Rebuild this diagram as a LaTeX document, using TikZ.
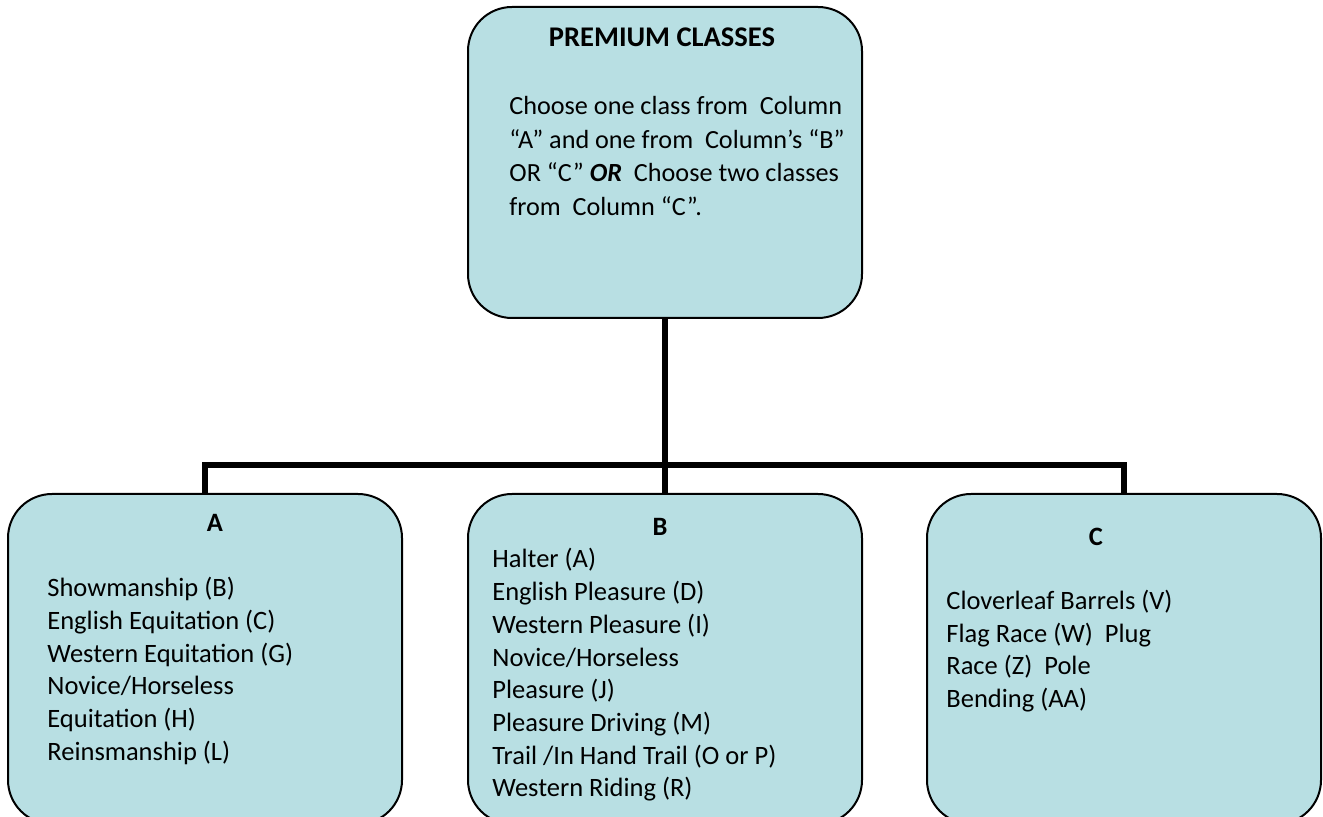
\documentclass[tikz,border=0pt]{standalone}
\usepackage{fontspec}
\setmainfont{Carlito}
\definecolor{boxfill}{RGB}{184,223,227}
\tikzset{
  x=0.5pt,y=-0.5pt,
  classbox/.style={draw=black,line width=1pt,fill=boxfill,rounded corners=22pt,inner sep=0pt},
  conn/.style={draw=black,line width=3pt},
  bodytext/.style={inner sep=0pt,align=left,font=\fontsize{13.25}{16.35}\selectfont},
  toptext/.style={inner sep=0pt,align=left,font=\fontsize{13.1}{16.75}\selectfont},
  headtext/.style={inner sep=0pt,font=\fontsize{13.25}{16.35}\selectfont\bfseries}
}
\begin{document}
\begin{tikzpicture}
\useasboundingbox[clip] (0,0) rectangle (1323,817);
\fill[white] (0,0) rectangle (1323,817);
% boxes
\node[classbox,minimum width=197pt,minimum height=155.5pt] (top) at (665,162.5) {};
\node[classbox,minimum width=197pt,minimum height=165pt] (A) at (205,659) {};
\node[classbox,minimum width=197pt,minimum height=165pt] (B) at (665,659) {};
\node[classbox,minimum width=197pt,minimum height=165pt] (C) at (1124,659) {};
% connectors
\draw[conn] (top.south) -- (B.north);
\draw[conn] (A.north) -- ++(0,-28) -| (C.north);
% top text
\node[headtext,font=\fontsize{14.25}{17}\selectfont\bfseries] (toph) at (662,37) {PREMIUM CLASSES};
\node[toptext,anchor=west] (topb) at (509,156) {Choose one class from~ Column\\
“A” and one from~ Column’s “B”\\
OR “C” \textbf{\textit{OR}}~ Choose two classes\\
from~ Column “C”.};
% A
\node[headtext] (Ah) at (215,523) {A};
\node[bodytext,anchor=west] (Ab) at (47,671) {Showmanship (B)\\
English Equitation (C)\\
Western Equitation (G)\\
Novice/Horseless\\
Equitation (H)\\
Reinsmanship (L)};
% B
\node[headtext] (Bh) at (660,527) {B};
\node[bodytext,anchor=west] (Bb) at (492,675) {Halter (A)\\
English Pleasure (D)\\
Western Pleasure (I)\\
Novice/Horseless\\
Pleasure (J)\\
Pleasure Driving (M)\\
Trail /In Hand Trail (O or P)\\
Western Riding (R)};
% C
\node[headtext] (Ch) at (1096,537) {C};
\node[bodytext,anchor=west] (Cb) at (946,651) {Cloverleaf Barrels (V)\\
Flag Race (W)~ Plug\\
Race (Z)~ Pole\\
Bending (AA)};
\end{tikzpicture}
\end{document}
